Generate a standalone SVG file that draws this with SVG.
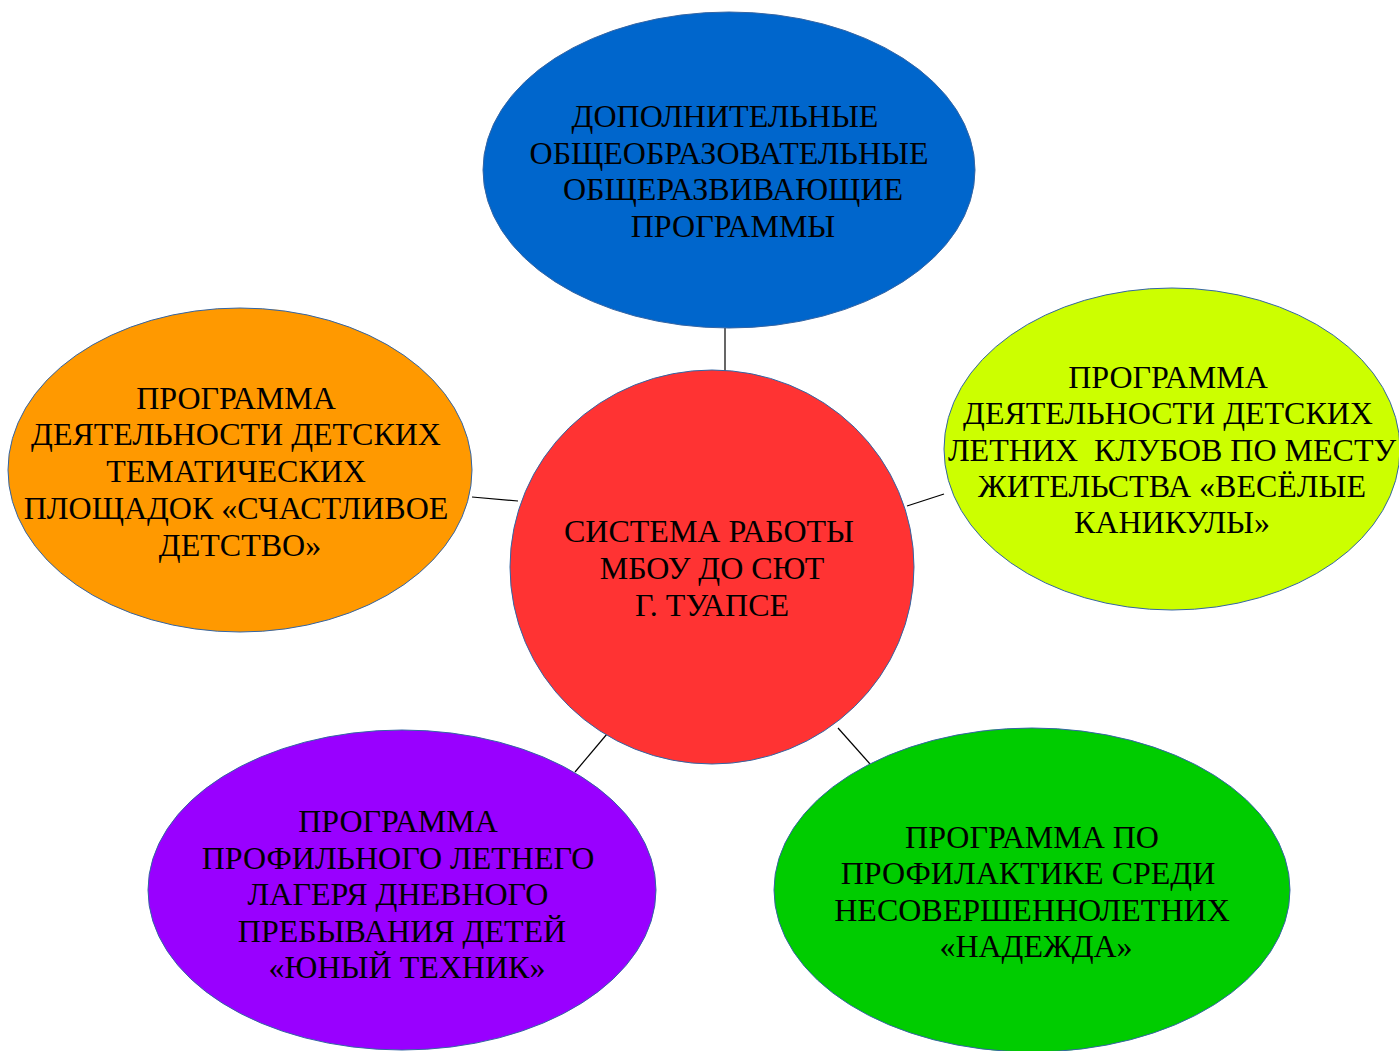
<svg xmlns="http://www.w3.org/2000/svg" width="1399" height="1051" viewBox="0 0 1399 1051">
<style>
.n{stroke:#3465a4;stroke-width:1}
.t{font-family:"Liberation Serif","Times New Roman",serif;font-size:32px;fill:#000;text-anchor:middle}
.c{stroke:#000;stroke-width:1.2;fill:none}
</style>
<rect width="1399" height="1051" fill="#fff"/>
<g id="connectors">
<line class="c" x1="725" y1="328" x2="725" y2="371" stroke="#555"/>
<line class="c" x1="472" y1="497" x2="518" y2="501"/>
<line class="c" x1="907" y1="506" x2="944" y2="494"/>
<line class="c" x1="575" y1="772" x2="607" y2="734"/>
<line class="c" x1="838" y1="728" x2="870" y2="764"/>
</g>
<g id="top">
<ellipse class="n" cx="729" cy="170" rx="246" ry="158" fill="#0066cc"/>
<text class="t"><tspan x="725" y="127">ДОПОЛНИТЕЛЬНЫЕ</tspan><tspan x="729" y="164">ОБЩЕОБРАЗОВАТЕЛЬНЫЕ</tspan><tspan x="733" y="200">ОБЩЕРАЗВИВАЮЩИЕ</tspan><tspan x="733" y="237">ПРОГРАММЫ</tspan></text>
</g>
<g id="left">
<ellipse class="n" cx="240" cy="470" rx="232" ry="162" fill="#ff9900"/>
<text class="t"><tspan x="236" y="409">ПРОГРАММА</tspan><tspan x="236" y="445">ДЕЯТЕЛЬНОСТИ ДЕТСКИХ</tspan><tspan x="236" y="482">ТЕМАТИЧЕСКИХ</tspan><tspan x="236" y="519">ПЛОЩАДОК «СЧАСТЛИВОЕ</tspan><tspan x="240" y="556">ДЕТСТВО»</tspan></text>
</g>
<g id="right">
<ellipse class="n" cx="1172" cy="449" rx="228" ry="161" fill="#ccff00"/>
<text class="t"><tspan x="1168" y="388">ПРОГРАММА</tspan><tspan x="1168" y="424">ДЕЯТЕЛЬНОСТИ ДЕТСКИХ</tspan><tspan x="1172" y="461" xml:space="preserve">ЛЕТНИХ  КЛУБОВ ПО МЕСТУ</tspan><tspan x="1172" y="497">ЖИТЕЛЬСТВА «ВЕСЁЛЫЕ</tspan><tspan x="1172" y="533">КАНИКУЛЫ»</tspan></text>
</g>
<g id="center">
<ellipse class="n" cx="712" cy="567" rx="202" ry="197" fill="#ff3333"/>
<text class="t"><tspan x="709" y="542">СИСТЕМА РАБОТЫ</tspan><tspan x="712" y="579">МБОУ ДО СЮТ</tspan><tspan x="712" y="616">Г. ТУАПСЕ</tspan></text>
</g>
<g id="bottom-left">
<ellipse class="n" cx="402" cy="890" rx="254" ry="160" fill="#9900ff"/>
<text class="t"><tspan x="398" y="832">ПРОГРАММА</tspan><tspan x="398" y="869">ПРОФИЛЬНОГО ЛЕТНЕГО</tspan><tspan x="398" y="905">ЛАГЕРЯ ДНЕВНОГО</tspan><tspan x="402" y="942">ПРЕБЫВАНИЯ ДЕТЕЙ</tspan><tspan x="407" y="978">«ЮНЫЙ ТЕХНИК»</tspan></text>
</g>
<g id="bottom-right">
<ellipse class="n" cx="1032" cy="890" rx="258" ry="162" fill="#00cc00"/>
<text class="t"><tspan x="1032" y="848">ПРОГРАММА ПО</tspan><tspan x="1028" y="884">ПРОФИЛАКТИКЕ СРЕДИ</tspan><tspan x="1032" y="921">НЕСОВЕРШЕННОЛЕТНИХ</tspan><tspan x="1036" y="957">«НАДЕЖДА»</tspan></text>
</g>
</svg>
